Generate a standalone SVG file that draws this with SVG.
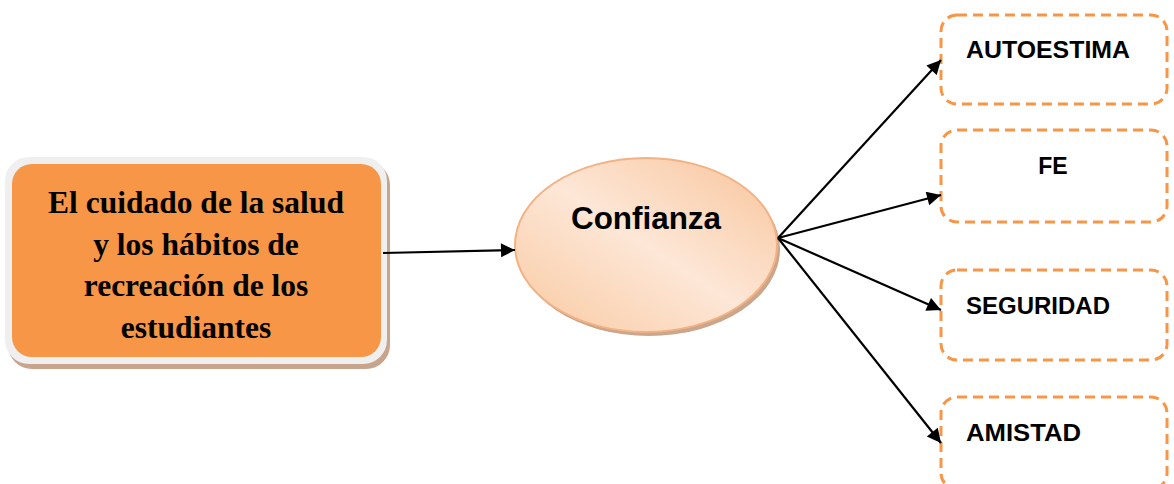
<svg xmlns="http://www.w3.org/2000/svg" width="1174" height="484" viewBox="0 0 1174 484">
<style>
.lbl{font-family:"Liberation Sans",Arial,sans-serif;font-weight:bold;fill:#000}
.src{font-family:"Liberation Serif","Times New Roman",serif;font-weight:bold;font-size:31.5px;fill:#000;text-anchor:middle}
.box{fill:#fff;stroke:#f79646;stroke-width:3;stroke-dasharray:10 6}
.conn{stroke:#000;stroke-width:2.2;fill:none;marker-end:url(#arr)}
</style>
<defs>
<marker id="arr" viewBox="0 0 10 10" refX="10" refY="5" markerWidth="16" markerHeight="14" markerUnits="userSpaceOnUse" orient="auto">
<path d="M0,0 L10,5 L0,10 z" fill="#000"/>
</marker>
<linearGradient id="eg" x1="0" y1="1" x2="1" y2="0">
<stop offset="0" stop-color="#f9c9a0"/>
<stop offset="0.5" stop-color="#fde7d7"/>
<stop offset="1" stop-color="#f8c49a"/>
</linearGradient>
</defs>
<rect width="1174" height="484" fill="#fff"/>
<g id="n-source">
<rect x="8" y="161" width="382" height="208" rx="24" fill="#c8a48c"/>
<rect x="5" y="157" width="382" height="207" rx="24" fill="#efefef"/>
<rect x="12" y="164" width="369" height="193" rx="20" fill="#f79646"/>
<text class="src" x="196" y="213">El cuidado de la salud</text>
<text class="src" x="196" y="255">y los hábitos de</text>
<text class="src" x="196" y="296">recreación de los</text>
<text class="src" x="196" y="338">estudiantes</text>
</g>
<g id="n-confianza">
<ellipse cx="649" cy="249" rx="131" ry="87" fill="#c9a68c"/>
<ellipse cx="646" cy="245" rx="131" ry="87" fill="url(#eg)" stroke="#f4b183" stroke-width="2"/>
<text class="lbl" x="646" y="229" font-size="31" text-anchor="middle" textLength="150" lengthAdjust="spacingAndGlyphs">Confianza</text>
</g>
<g id="n-autoestima">
<rect class="box" x="941" y="15" width="226" height="89" rx="16"/>
<text class="lbl" x="966" y="58" font-size="23" textLength="164" lengthAdjust="spacingAndGlyphs">AUTOESTIMA</text>
</g>
<g id="n-fe">
<rect class="box" x="941" y="130" width="226" height="92" rx="16"/>
<text class="lbl" x="1053" y="174" font-size="23" text-anchor="middle">FE</text>
</g>
<g id="n-seguridad">
<rect class="box" x="941" y="270" width="226" height="90" rx="16"/>
<text class="lbl" x="966" y="314" font-size="23" textLength="144" lengthAdjust="spacingAndGlyphs">SEGURIDAD</text>
</g>
<g id="n-amistad">
<rect class="box" x="941" y="397" width="226" height="92" rx="16"/>
<text class="lbl" x="966" y="441" font-size="23" textLength="115" lengthAdjust="spacingAndGlyphs">AMISTAD</text>
</g>
<g id="connectors">
<line class="conn" x1="383" y1="253" x2="515" y2="250"/>
<line class="conn" x1="778" y1="238" x2="941" y2="60"/>
<line class="conn" x1="778" y1="238" x2="941" y2="195"/>
<line class="conn" x1="778" y1="238" x2="941" y2="310"/>
<line class="conn" x1="778" y1="238" x2="941" y2="443"/>
</g>
</svg>
